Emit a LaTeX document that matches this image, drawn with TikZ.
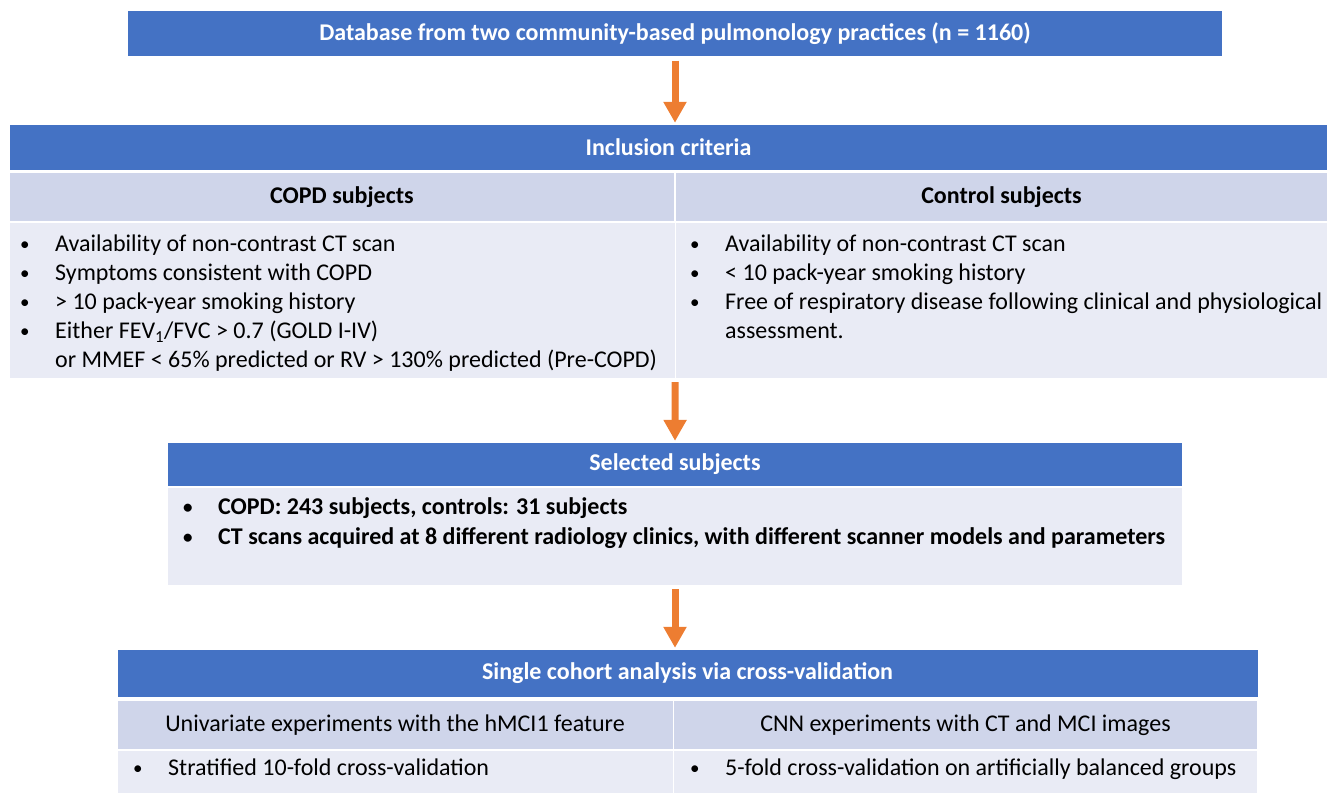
\documentclass[tikz,border=0pt]{standalone}
\usepackage{fontspec}
\setmainfont{Carlito}
\usetikzlibrary{arrows.meta}

\definecolor{hdrblue}{HTML}{4472C4}
\definecolor{rowdark}{HTML}{CFD5EA}
\definecolor{rowlight}{HTML}{E9EBF5}
\definecolor{arrorange}{HTML}{ED7D31}
\newcommand{\bul}{\makebox[35pt][l]{\raisebox{1pt}{\fontsize{19}{19}\selectfont\textbullet}}}

\begin{document}
\begin{tikzpicture}[x=1pt,y=-1pt,
  every node/.style={inner sep=0pt,font=\fontsize{24}{29}\selectfont},
  hd/.style={fill=hdrblue,text=white,font=\fontsize{24}{28}\selectfont\bfseries},
  sub/.style={fill=rowdark},
  bod/.style={fill=rowlight},
  lst/.style={align=left,anchor=north west},
  e/.style={-{Triangle[width=22pt,length=21pt]},line width=7pt,draw=arrorange,shorten <=4pt,shorten >=2pt}]
\useasboundingbox (0,0) rectangle (1327,792);
% top: source database
\node[hd,minimum width=1094pt,minimum height=45pt] (dbHead) at (675,34) {Database from two community-based pulmonology practices (n = 1160)};
% inclusion table
\node[hd,minimum width=1317pt,minimum height=45pt] (inclHead) at (668.5,147.5) {Inclusion criteria};
\node[sub,minimum width=664pt,minimum height=48pt,font=\fontsize{24}{28}\selectfont\bfseries] (copdSub) at (342,197) {COPD subjects};
\node[sub,minimum width=651pt,minimum height=48pt,font=\fontsize{24}{28}\selectfont\bfseries] (ctrlSub) at (1001.5,197) {Control subjects};
\node[bod,minimum width=665pt,minimum height=155pt] (copdBody) at (342.5,300.5) {};
\node[bod,minimum width=651pt,minimum height=155pt] (ctrlBody) at (1001.5,300.5) {};
\node[lst] (copdList) at (20,235) {\bul Availability of non-contrast CT scan\\
  \bul Symptoms consistent with COPD\\
  \bul > 10 pack-year smoking history\\
  \bul Either FEV\textsubscript{1}/FVC > 0.7 (GOLD I-IV)\\
  \hspace*{35pt}or MMEF < 65\% predicted or RV > 130\% predicted (Pre-COPD)};
\node[lst] (ctrlList) at (690,235) {\bul Availability of non-contrast CT scan\\
  \bul < 10 pack-year smoking history\\
  \bul Free of respiratory disease following clinical and physiological\\
  \hspace*{35pt}assessment.};
% selected subjects
\node[hd,minimum width=1014pt,minimum height=43pt] (selHead) at (675,464.5) {Selected subjects};
\node[bod,minimum width=1014pt,minimum height=97pt] (selBody) at (675,536.5) {};
\node[lst,font=\fontsize{24}{30}\selectfont\bfseries] (selList) at (183,497) {\bul COPD: 243 subjects, controls: 31 subjects\\
  \bul CT scans acquired at 8 different radiology clinics, with different scanner models and parameters};
% cross-validation table
\node[hd,minimum width=1140pt,minimum height=47pt] (cvHead) at (687.5,673.5) {Single cohort analysis via cross-validation};
\node[sub,minimum width=555pt,minimum height=48pt] (uniSub) at (395,725) {Univariate experiments with the hMCI1 feature};
\node[sub,minimum width=583pt,minimum height=48pt] (cnnSub) at (965.5,725) {CNN experiments with CT and MCI images};
\node[bod,minimum width=555pt,minimum height=42pt] (uniBody) at (395,772) {};
\node[bod,minimum width=583pt,minimum height=42pt] (cnnBody) at (965.5,772) {};
\node[lst] (uniList) at (133,759) {\bul Stratified 10-fold cross-validation};
\node[lst] (cnnList) at (690,759) {\bul 5-fold cross-validation on artificially balanced groups};
% flow arrows
\draw[e] (dbHead.south) -- (dbHead.south |- inclHead.north);
\draw[e] (copdBody.south east) -- (selHead.north);
\draw[e] (selBody.south) -- (selBody.south |- cvHead.north);
\end{tikzpicture}
\end{document}
